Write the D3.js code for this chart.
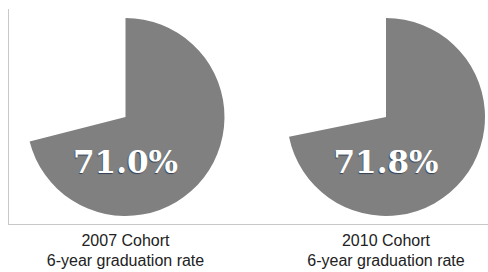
<!DOCTYPE html>
<html>
<head>
<meta charset="utf-8">
<script src="https://cdn.jsdelivr.net/npm/d3@7"></script>
<style>
  html, body { margin: 0; padding: 0; background: #fff; }
  svg { display: block; }
</style>
</head>
<body>
<div id="chart"></div>
<script>
const cohorts = ['2007 Cohort', '2010 Cohort'];
const gradRates = [71.0, 71.8];
const subtitle = '6-year graduation rate';

const W = 488, H = 272;
const R = 99;
const CY = 117;
const PIE_FILL = '#808080';
const AXIS_COLOR = '#c8c8c8';

const svg = d3.select('#chart').append('svg')
    .attr('width', W)
    .attr('height', H);

const xScale = d3.scalePoint().domain(cohorts).range([125.5, 386]);
const angle = d3.scaleLinear().domain([0, 100]).range([0, 2 * Math.PI]);

const arc = d3.arc()
    .innerRadius(0)
    .outerRadius(R)
    .startAngle(0)
    .endAngle(d => angle(d.rate));

// frame lines (left + bottom)
svg.append('line')
    .attr('x1', 8.5).attr('x2', 8.5)
    .attr('y1', 9).attr('y2', 224.5)
    .attr('stroke', AXIS_COLOR).attr('stroke-width', 1);
svg.append('line')
    .attr('x1', 8).attr('x2', W)
    .attr('y1', 224.5).attr('y2', 224.5)
    .attr('stroke', AXIS_COLOR).attr('stroke-width', 1);

const data = cohorts.map((c, i) => ({ cohort: c, rate: gradRates[i] }));

const g = svg.selectAll('.pieG')
    .data(data)
    .join('g')
    .attr('class', 'pieG')
    .attr('transform', d => `translate(${xScale(d.cohort)},${CY})`);

g.append('path')
    .attr('d', arc)
    .attr('fill', PIE_FILL);

g.append('text')
    .attr('x', 0)
    .attr('y', 56)
    .attr('text-anchor', 'middle')
    .style('font-family', '"DejaVu Serif", serif')
    .style('font-weight', 'bold')
    .style('font-size', '31px')
    .style('fill', '#ffffff')
    .style('text-shadow', '-0.6px 0.6px 0.8px rgba(20,40,70,0.7)')
    .text(d => d.rate.toFixed(1) + '%');

const lbl = g.append('text')
    .attr('text-anchor', 'middle')
    .style('font-family', '"Liberation Sans", Arial, sans-serif')
    .style('font-size', '16px')
    .style('fill', '#222');
lbl.append('tspan').attr('x', 0).attr('y', 129).text(d => d.cohort);
lbl.append('tspan').attr('x', 0).attr('y', 149).text(subtitle);
</script>
</body>
</html>
